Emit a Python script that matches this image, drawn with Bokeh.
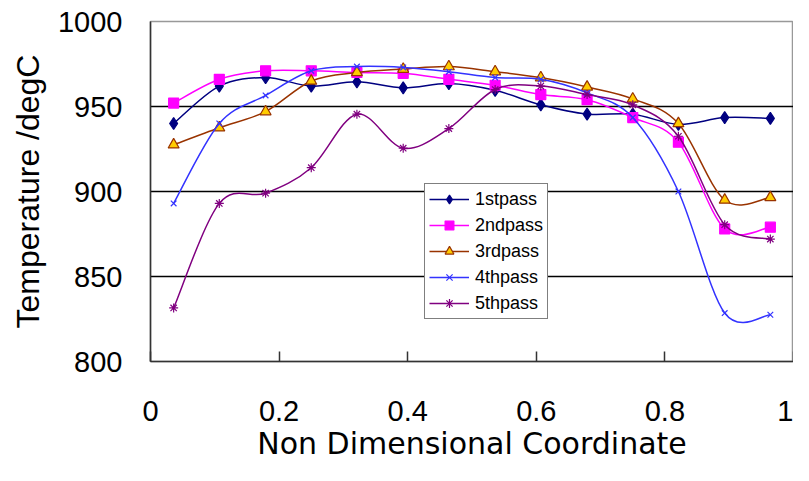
from bokeh.plotting import figure
from bokeh.models import Range1d, FixedTicker, Legend, LegendItem, Title
from bokeh.embed import file_html
from bokeh.resources import INLINE

coord = [0.036, 0.107, 0.179, 0.25, 0.321, 0.393, 0.464, 0.536, 0.607, 0.679, 0.75, 0.821, 0.893, 0.964]
pass1 = [940, 962, 967, 962, 964.5, 961, 963.5, 959.5, 951, 945.5, 945.5, 939.5, 943.5, 943]
pass2 = [952, 966, 971, 971, 970, 969.5, 966, 962.5, 957, 954, 943.5, 929, 878, 879]
pass3 = [927.5, 937.5, 947, 965, 970, 972, 973.5, 970.5, 967, 961.5, 954.5, 940, 895, 896.5]
pass4 = [893, 940, 956.5, 971, 973.5, 973, 970.5, 967, 966, 958, 943.5, 900, 828.5, 827.5]
pass5 = [831.5, 893, 899, 914, 945.5, 925.5, 937, 960, 962, 957, 951, 932.5, 880.5, 872]
labels = ["1stpass", "2ndpass", "3rdpass", "4thpass", "5thpass"]
x_ticks = [0, 0.2, 0.4, 0.6, 0.8, 1]
x_tick_labels = ["0", "0.2", "0.4", "0.6", "0.8", "1"]
y_ticks = [800, 850, 900, 950, 1000]

p = figure(width=793, height=465, output_backend="svg", toolbar_location=None,
           x_range=Range1d(0, 1), y_range=Range1d(800, 1000),
           min_border_left=150, min_border_right=0, min_border_top=21, min_border_bottom=104)
p.background_fill_color = "white"
p.border_fill_color = "white"
p.outline_line_color = "#999999"
p.outline_line_width = 1.5

p.xgrid.visible = False
p.ygrid.grid_line_color = "black"
p.ygrid.grid_line_width = 1.3
p.ygrid.ticker = FixedTicker(ticks=y_ticks)

p.xaxis.ticker = FixedTicker(ticks=x_ticks)
p.xaxis.major_label_overrides = {t: l for t, l in zip(x_ticks, x_tick_labels)}
p.yaxis.ticker = FixedTicker(ticks=y_ticks)
for ax in (p.xaxis[0], p.yaxis[0]):
    ax.axis_line_color = "#333333"
    ax.axis_line_width = 1.5
    ax.minor_tick_line_color = None
    ax.major_label_text_color = "black"
    ax.major_label_text_font = "Liberation Sans"
    ax.major_label_text_font_size = "29px"
    ax.axis_label_text_color = "black"
    ax.axis_label_text_font_style = "normal"
p.xaxis.major_tick_in = 10
p.xaxis.major_tick_out = 0
p.xaxis.major_tick_line_color = "#333333"
p.xaxis.major_tick_line_width = 1.5
p.yaxis.major_tick_in = 0
p.yaxis.major_tick_out = 0
p.xaxis.major_label_standoff = 39
p.yaxis.major_label_standoff = 28
p.yaxis.axis_label = "Temperature /degC"
p.yaxis.axis_label_text_font = "Liberation Sans"
p.yaxis.axis_label_text_font_size = "32px"
p.yaxis.axis_label_standoff = 9

x_title = Title(text="Non Dimensional Coordinate", align="center", offset=24,
                text_font="DejaVu Sans", text_font_size="30px", text_font_style="normal",
                text_color="black", standoff=0)
p.add_layout(x_title, "below")


def smooth(xs, ys):
    n = len(xs)
    x0, y0, x1, y1, cx0, cy0, cx1, cy1 = [], [], [], [], [], [], [], []
    for i in range(n - 1):
        a = max(i - 1, 0)
        d = min(i + 2, n - 1)
        x0.append(xs[i]); y0.append(ys[i])
        x1.append(xs[i + 1]); y1.append(ys[i + 1])
        cx0.append(xs[i] + (xs[i + 1] - xs[a]) / 6.0)
        cy0.append(ys[i] + (ys[i + 1] - ys[a]) / 6.0)
        cx1.append(xs[i + 1] - (xs[d] - xs[i]) / 6.0)
        cy1.append(ys[i + 1] - (ys[d] - ys[i]) / 6.0)
    return dict(x0=x0, y0=y0, x1=x1, y1=y1, cx0=cx0, cy0=cy0, cx1=cx1, cy1=cy1)


series = [pass1, pass2, pass3, pass4, pass5]
line_colors = ["#000080", "#FF00FF", "#993300", "#3333FF", "#800080"]
markers = ["diamond", "square", "triangle", "x", "asterisk"]
fills = ["#000080", "#FF00FF", "#FFCC00", "#3333FF", "#800080"]
sizes = [12, 10, 11, 8, 9]

leg_items = []
for ys, lc, mk, fc, sz, lab in zip(series, line_colors, markers, fills, sizes, labels):
    bz = p.bezier(source=smooth(coord, ys), x0="x0", y0="y0", x1="x1", y1="y1",
                  cx0="cx0", cy0="cy0", cx1="cx1", cy1="cy1", line_color=lc, line_width=1.5)
    sc = p.scatter(coord, ys, marker=mk, size=sz, fill_color=fc, line_color=lc, line_width=1.2)
    leg_items.append(LegendItem(label=lab, renderers=[bz, sc]))

legend = Legend(items=leg_items, location=(274, 42))
legend.border_line_color = "black"
legend.border_line_width = 1.5
legend.background_fill_color = "white"
legend.background_fill_alpha = 1
legend.label_text_font = "Liberation Sans"
legend.label_text_font_size = "18px"
legend.label_text_color = "black"
legend.glyph_width = 40
legend.glyph_height = 22
legend.label_height = 22
legend.label_width = 66
legend.spacing = 4
legend.padding = 4
legend.margin = 0
legend.label_standoff = 6
p.add_layout(legend, "center")

open("out.html", "w").write(file_html(p, INLINE))
